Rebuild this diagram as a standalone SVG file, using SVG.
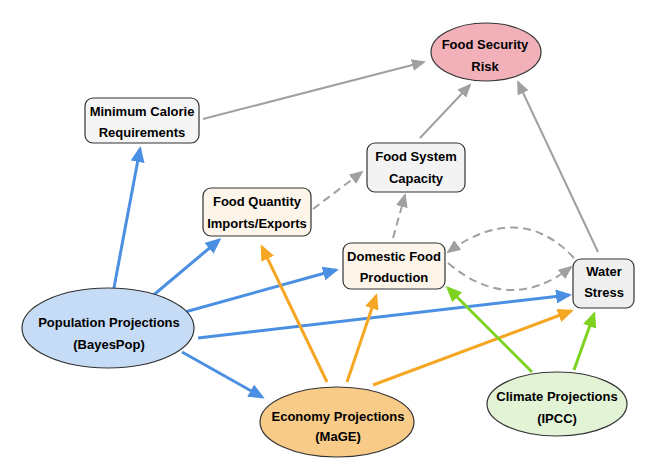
<svg xmlns="http://www.w3.org/2000/svg" width="658" height="473" viewBox="0 0 658 473">
<style>
text{font-family:"Liberation Sans",Arial,sans-serif;font-size:13px;font-weight:bold;fill:#000;text-anchor:middle}
.n{stroke:#333;stroke-width:1.2}
.b{stroke:#4a8fe2;stroke-width:3;fill:none;marker-end:url(#mb)}
.o{stroke:#f5a623;stroke-width:3;fill:none;marker-end:url(#mo)}
.g{stroke:#7ed321;stroke-width:3;fill:none;marker-end:url(#mg)}
.s{stroke:#a0a0a0;stroke-width:2;fill:none;marker-end:url(#ms)}
.d{stroke:#a0a0a0;stroke-width:2;fill:none;stroke-dasharray:8 5;marker-end:url(#ms)}
</style>
<defs>
<marker id="mb" markerUnits="userSpaceOnUse" markerWidth="16" markerHeight="14" viewBox="0 0 16 14" refX="13" refY="7" orient="auto"><path d="M0,0 L16,7 L0,14 z" fill="#4a8fe2"/></marker>
<marker id="mo" markerUnits="userSpaceOnUse" markerWidth="16" markerHeight="14" viewBox="0 0 16 14" refX="13" refY="7" orient="auto"><path d="M0,0 L16,7 L0,14 z" fill="#f5a623"/></marker>
<marker id="mg" markerUnits="userSpaceOnUse" markerWidth="16" markerHeight="14" viewBox="0 0 16 14" refX="13" refY="7" orient="auto"><path d="M0,0 L16,7 L0,14 z" fill="#7ed321"/></marker>
<marker id="ms" markerUnits="userSpaceOnUse" markerWidth="14" markerHeight="12" viewBox="0 0 14 12" refX="12" refY="6" orient="auto"><path d="M0,0 L14,6 L0,12 z" fill="#a0a0a0"/></marker>
</defs>
<g id="connectors">
<path class="s" d="M203,119 L424,62"/>
<path class="s" d="M420,138 L470,85"/>
<path class="s" d="M598,252 L518,82"/>
<path class="d" d="M313,209 L362,172"/>
<path class="d" d="M393,238 L405,195"/>
<path class="d" d="M574,258 Q520,200 448,252"/>
<path class="d" d="M448,263 Q510,315 571,267"/>
<path class="b" d="M113,293 L140,149"/>
<path class="b" d="M150,298 L219,240"/>
<path class="b" d="M185,312 L336,270"/>
<path class="b" d="M198,338 L569,295"/>
<path class="b" d="M182,352 L262,397"/>
<path class="o" d="M327,382 L262,247"/>
<path class="o" d="M347,382 L376,296"/>
<path class="o" d="M373,385 L571,311"/>
<path class="g" d="M532,372 L448,288"/>
<path class="g" d="M574,370 L594,314"/>
</g>
<g id="food-security-risk"><ellipse class="n" cx="486" cy="52" rx="55" ry="29" fill="#f2b1b9"/><text x="485" y="49">Food Security</text><text x="485" y="71">Risk</text></g>
<g id="minimum-calorie"><rect class="n" x="85" y="98" width="114" height="45" rx="8" fill="#f5f5f5"/><text x="142" y="116">Minimum Calorie</text><text x="142" y="137">Requirements</text></g>
<g id="food-system-capacity"><rect class="n" x="367" y="143" width="98" height="49" rx="8" fill="#f3f3f3"/><text x="416" y="161">Food System</text><text x="416" y="183">Capacity</text></g>
<g id="food-quantity"><rect class="n" x="203" y="188" width="108" height="48" rx="8" fill="#fdf5ea"/><text x="257" y="206">Food Quantity</text><text x="257" y="228">Imports/Exports</text></g>
<g id="domestic-food"><rect class="n" x="343" y="243" width="102" height="46" rx="8" fill="#fdf5ea"/><text x="394" y="261">Domestic Food</text><text x="394" y="282">Production</text></g>
<g id="water-stress"><rect class="n" x="573" y="259" width="61" height="49" rx="8" fill="#efefef"/><text x="604" y="276">Water</text><text x="604" y="297">Stress</text></g>
<g id="population"><ellipse class="n" cx="108" cy="328" rx="86" ry="40" fill="#c6dbf6"/><text x="109" y="327">Population Projections</text><text x="109" y="349">(BayesPop)</text></g>
<g id="economy"><ellipse class="n" cx="337" cy="422" rx="77" ry="35" fill="#f8cb88"/><text x="338" y="421">Economy Projections</text><text x="338" y="441">(MaGE)</text></g>
<g id="climate"><ellipse class="n" cx="557" cy="404" rx="70" ry="32" fill="#e3f3d5"/><text x="557" y="401">Climate Projections</text><text x="557" y="423">(IPCC)</text></g>
</svg>
